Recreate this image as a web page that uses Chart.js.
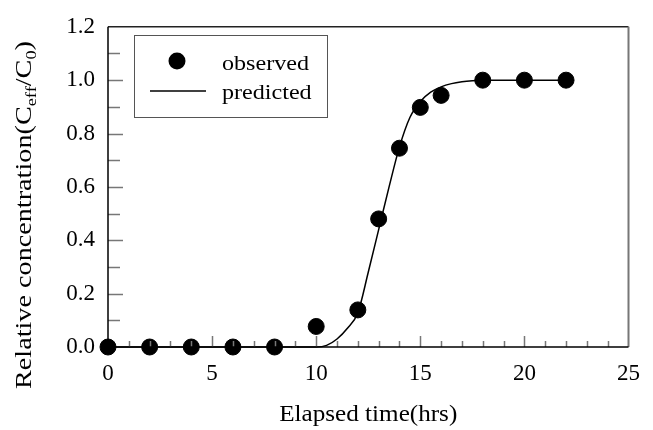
<!DOCTYPE html>
<html>
<head>
<meta charset="utf-8">
<script src="https://cdn.jsdelivr.net/npm/chart.js@4"></script>
<style>
  body { margin: 0; background: #fff; }
  #wrap { width: 653px; height: 430px; }
</style>
</head>
<body>
<div id="wrap"><canvas id="chart" width="653" height="430"></canvas></div>
<script>
// observed breakthrough points
const obsTime = [0, 2, 4, 6, 8, 10, 12, 13, 14, 15, 16, 18, 20, 22];
const obsConc = [0, 0, 0, 0, 0, 0.077, 0.139, 0.48, 0.745, 0.898, 0.943, 1.0, 1.0, 1.0];

// predicted curve
const predTime = [0, 10, 10.5, 11, 11.5, 12, 12.5, 13, 13.5, 14, 14.5, 15, 15.5, 16, 16.5, 17, 17.5, 18, 20, 22];
const predConc = [0, 0, 0.006, 0.03, 0.07, 0.128, 0.28, 0.44, 0.6, 0.75, 0.86, 0.92, 0.955, 0.975, 0.987, 0.994, 0.998, 1.0, 1.0, 1.0];

const xTicks = [0, 5, 10, 15, 20, 25];
const yTicks = [0, 0.2, 0.4, 0.6, 0.8, 1.0, 1.2];

const serif = '"Liberation Serif", "Times New Roman", Times, serif';

function stretchText(ctx, text, x, y, sx) {
    ctx.save();
    ctx.translate(x, y);
    ctx.scale(sx, 1);
    ctx.fillText(text, 0, 0);
    ctx.restore();
    return ctx.measureText(text).width * sx;
}

const decor = {
    id: "decor",
    afterDraw(chart) {
        const ctx = chart.ctx;
        const a = chart.chartArea;
        const xs = chart.scales.x;
        const ys = chart.scales.y;

        // inward ticks
        ctx.save();
        ctx.strokeStyle = "#777";
        ctx.lineWidth = 1.5;
        for (let v = 1; v < 25; v++) {
            const px = Math.round(xs.getPixelForValue(v)) + 0.5;
            const len = v % 5 === 0 ? 11 : 6;
            ctx.beginPath();
            ctx.moveTo(px, a.bottom);
            ctx.lineTo(px, a.bottom - len);
            ctx.stroke();
        }
        for (let i = 1; i < 12; i++) {
            const py = Math.round(ys.getPixelForValue(i / 10)) + 0.5;
            const len = i % 2 === 0 ? 15 : 12;
            ctx.beginPath();
            ctx.moveTo(a.left, py);
            ctx.lineTo(a.left + len, py);
            ctx.stroke();
        }

        // frame top and right
        ctx.strokeStyle = "#222";
        ctx.lineWidth = 1.5;
        ctx.beginPath();
        ctx.moveTo(a.left, a.top);
        ctx.lineTo(a.right, a.top);
        ctx.stroke();
        ctx.strokeStyle = "#777";
        ctx.lineWidth = 2;
        ctx.beginPath();
        ctx.moveTo(a.right, a.top);
        ctx.lineTo(a.right, a.bottom);
        ctx.stroke();

        // axis lines
        ctx.strokeStyle = "#000";
        ctx.lineWidth = 1.5;
        ctx.beginPath();
        ctx.moveTo(a.left, a.top);
        ctx.lineTo(a.left, a.bottom);
        ctx.lineTo(a.right, a.bottom);
        ctx.stroke();

        // legend
        const ds = chart.data.datasets;
        ctx.strokeStyle = "#555";
        ctx.lineWidth = 1;
        ctx.strokeRect(134.5, 35.5, 193, 82);
        ctx.fillStyle = ds[0].backgroundColor;
        ctx.beginPath();
        ctx.arc(177, 61, 8.5, 0, Math.PI * 2);
        ctx.fill();
        ctx.strokeStyle = ds[1].borderColor;
        ctx.lineWidth = 1.5;
        ctx.beginPath();
        ctx.moveTo(150, 91);
        ctx.lineTo(206, 91);
        ctx.stroke();
        ctx.fillStyle = "#000";
        ctx.font = "22px " + serif;
        ctx.textBaseline = "alphabetic";
        ctx.textAlign = "left";
        const lw = ctx.measureText(ds[0].label).width;
        const lsx = 87 / lw;
        stretchText(ctx, ds[0].label, 222, 70, lsx);
        stretchText(ctx, ds[1].label, 222, 99, lsx);

        // x title, scaled to the reference width
        ctx.font = "23px " + serif;
        const xt = "Elapsed time(hrs)";
        const xw = ctx.measureText(xt).width;
        const sx = 178 / xw;
        stretchText(ctx, xt, (a.left + a.right) / 2 - 89, 421, sx);

        // y title with subscripts, rotated
        ctx.save();
        ctx.translate(31, 389);
        ctx.rotate(-Math.PI / 2);
        const big = "23px " + serif;
        const small = "15px " + serif;
        const parts = [
            ["Relative concentration(C", big, 0],
            ["eff", small, 5],
            ["/C", big, 0],
            ["0", small, 5],
            [")", big, 0]
        ];
        let total = 0;
        parts.forEach(p => { ctx.font = p[1]; total += ctx.measureText(p[0]).width; });
        const ysx = 348 / total;
        let cx = 0;
        parts.forEach(p => {
            ctx.font = p[1];
            cx += stretchText(ctx, p[0], cx, p[2], ysx);
        });
        ctx.restore();
        ctx.restore();
    }
};

function draw() {
    new Chart(document.getElementById("chart"), {
        type: "scatter",
        data: {
            datasets: [{
                label: "observed",
                data: obsTime.map((t, i) => ({ x: t, y: obsConc[i] })),
                backgroundColor: "#000",
                borderColor: "#000",
                pointRadius: 8,
                pointHoverRadius: 8,
                showLine: false,
                clip: false,
                order: 0
            }, {
                label: "predicted",
                data: predTime.map((t, i) => ({ x: t, y: predConc[i] })),
                borderColor: "#000",
                backgroundColor: "#000",
                borderWidth: 1.5,
                pointRadius: 0,
                showLine: true,
                cubicInterpolationMode: "monotone",
                clip: false,
                order: 1
            }]
        },
        options: {
            responsive: false,
            maintainAspectRatio: false,
            animation: false,
            events: [],
            layout: { padding: { top: 19, right: 13, left: 0, bottom: 0 } },
            plugins: {
                legend: { display: false },
                tooltip: { enabled: false }
            },
            scales: {
                x: {
                    type: "linear",
                    min: 0,
                    max: 25,
                    afterFit(s) { s.height = 83; },
                    afterBuildTicks(s) { s.ticks = xTicks.map(v => ({ value: v })); },
                    grid: { display: false, drawTicks: false },
                    border: { display: false },
                    ticks: {
                        color: "#000",
                        padding: 13,
                        maxRotation: 0,
                        font: { family: serif, size: 23 }
                    }
                },
                y: {
                    min: 0,
                    max: 1.2,
                    afterFit(s) { s.width = 108; },
                    afterBuildTicks(s) { s.ticks = yTicks.map(v => ({ value: v })); },
                    grid: { display: false, drawTicks: false },
                    border: { display: false },
                    ticks: {
                        color: "#000",
                        padding: 13,
                        font: { family: serif, size: 23 },
                        callback: v => Number(v).toFixed(1)
                    }
                }
            }
        },
        plugins: [decor]
    });
}

document.fonts.load('21px "Liberation Serif"').then(draw, draw);
</script>
</body>
</html>
